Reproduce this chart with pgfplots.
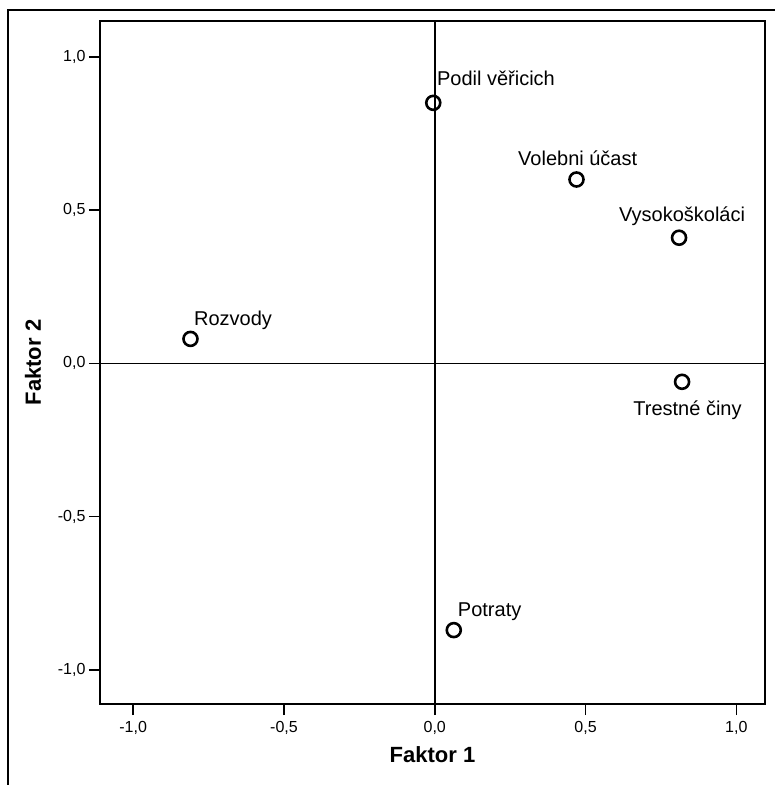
\documentclass[border=0pt]{standalone}
\usepackage{pgfplots}
\pgfplotsset{compat=1.18}
\usepackage{fontspec}
\setmainfont{Liberation Sans}
\begin{document}
\begin{tikzpicture}
\useasboundingbox (0pt,0pt) rectangle (775pt,785pt);
\draw[line width=2pt] (8pt,0pt) -- (8pt,775pt) -- (775pt,775pt);
\begin{axis}[at={(100pt,81pt)}, anchor=south west, scale only axis,
  width=665pt, height=683pt,
  xmin=-1.11, xmax=1.095, ymin=-1.111, ymax=1.117,
  axis line style={line width=2.4pt},
  xtick={-1,-0.5,0,0.5,1}, ytick={-1,-0.5,0,0.5,1},
  xticklabels={{-1,0},{-0,5},{0,0},{0,5},{1,0}},
  yticklabels={{-1,0},{-0,5},{0,0},{0,5},{1,0}},
  tick align=outside, major tick length=11pt,
  every tick/.style={black, line width=1.6pt},
  xtick pos=bottom, ytick pos=left,
  ticklabel style={font=\fontsize{16}{18}\selectfont},
  xticklabel style={yshift=-3pt},
  xlabel={\textbf{Faktor 1}}, ylabel={\textbf{Faktor 2}},
  label style={font=\fontsize{22}{25}\selectfont},
  xlabel style={yshift=-5pt},
  ylabel style={yshift=10pt},
  clip=false,
]
\addplot[black, line width=1.7pt] coordinates {(0,-1.111) (0,1.117)};
\addplot[black, line width=1.7pt] coordinates {(-1.11,0) (1.095,0)};
\addplot[only marks, mark=o, mark size=7pt, mark options={black, line width=2.6pt}]
  coordinates {(-0.005,0.85) (0.47,0.60) (0.81,0.41) (0.82,-0.06) (-0.81,0.08) (0.063,-0.87)};
\begin{scope}[every node/.style={font=\fontsize{20}{23}\selectfont, inner sep=0pt}]
\node[anchor=west] at (axis cs:0.007,0.93) {Podil věřicich};
\node at (axis cs:0.474,0.669) {Volebni účast};
\node at (axis cs:0.82,0.48) {Vysokoškoláci};
\node at (axis cs:0.838,-0.153) {Trestné činy};
\node at (axis cs:-0.669,0.14) {Rozvody};
\node at (axis cs:0.182,-0.809) {Potraty};
\end{scope}
\end{axis}
\end{tikzpicture}
\end{document}
